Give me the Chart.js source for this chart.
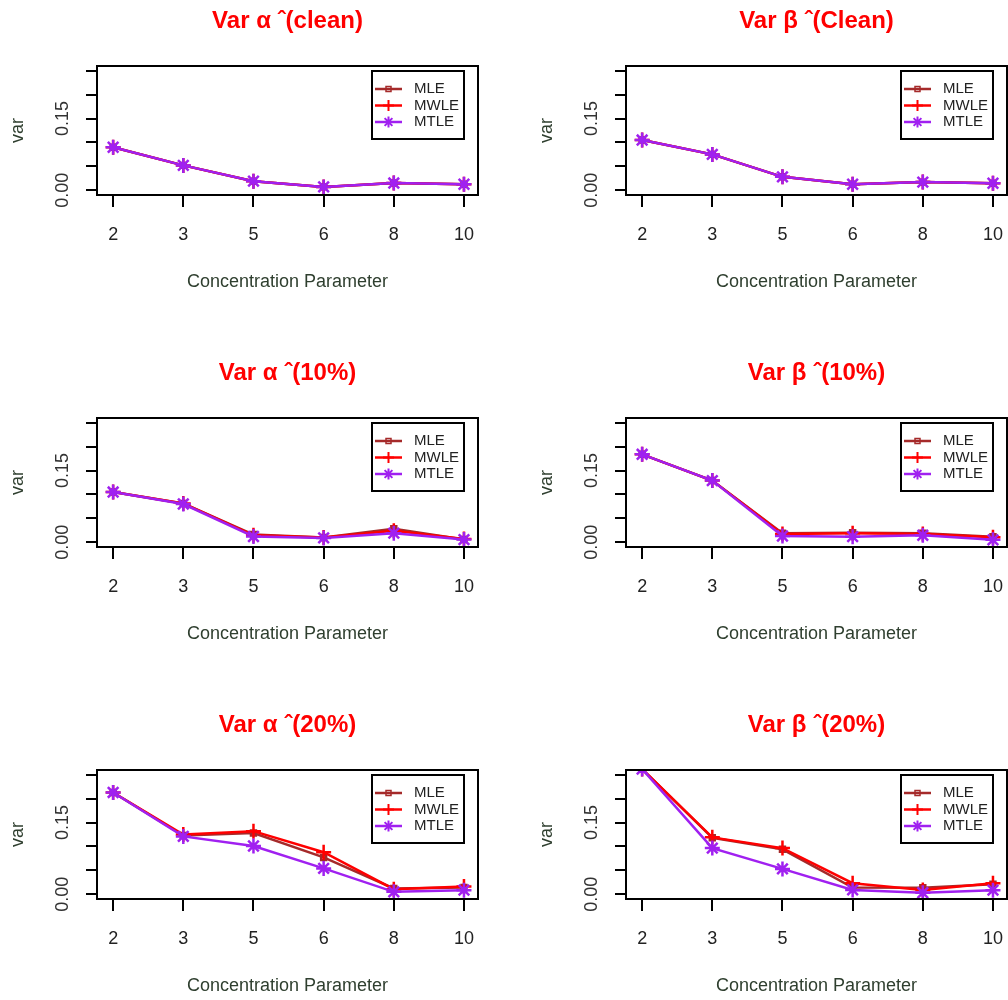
<!DOCTYPE html>
<html>
<head>
<meta charset="utf-8">
<script src="https://cdn.jsdelivr.net/npm/chart.js"></script>
<style>
  html, body { margin: 0; padding: 0; background: #fff; }
  body { width: 1008px; height: 1000px; position: relative; overflow: hidden; }
  canvas { position: absolute; }
</style>
</head>
<body>
<canvas id="p1" width="479" height="300" style="left:0px;top:0px"></canvas>
<canvas id="p2" width="479" height="300" style="left:529px;top:0px"></canvas>
<canvas id="p3" width="479" height="300" style="left:0px;top:352px"></canvas>
<canvas id="p4" width="479" height="300" style="left:529px;top:352px"></canvas>
<canvas id="p5" width="479" height="300" style="left:0px;top:704px"></canvas>
<canvas id="p6" width="479" height="300" style="left:529px;top:704px"></canvas>
<script>
const categories = ['2', '3', '5', '6', '8', '10'];
const yTicks = [0, 0.05, 0.10, 0.15, 0.20, 0.25];
const yLabelled = [0, 0.15];
const seriesNames = ['MLE', 'MWLE', 'MTLE'];

const titles = ['Var α ˆ(clean)', 'Var β ˆ(Clean)', 'Var α ˆ(10%)', 'Var β ˆ(10%)', 'Var α ˆ(20%)', 'Var β ˆ(20%)'];

// clean
const alphaCleanMLE  = [0.090, 0.052, 0.019, 0.007, 0.015, 0.0125];
const alphaCleanMWLE = [0.090, 0.052, 0.019, 0.007, 0.015, 0.0125];
const alphaCleanMTLE = [0.090, 0.052, 0.019, 0.007, 0.015, 0.0125];
const betaCleanMLE   = [0.105, 0.075, 0.028, 0.0125, 0.017, 0.0146];
const betaCleanMWLE  = [0.105, 0.075, 0.028, 0.0125, 0.017, 0.0146];
const betaCleanMTLE  = [0.105, 0.075, 0.028, 0.0125, 0.017, 0.0146];

// 10% contamination
const alpha10MLE  = [0.105, 0.081, 0.016, 0.010, 0.028, 0.0055];
const alpha10MWLE = [0.105, 0.081, 0.0145, 0.010, 0.024, 0.007];
const alpha10MTLE = [0.105, 0.080, 0.012, 0.009, 0.019, 0.0055];
const beta10MLE   = [0.184, 0.129, 0.0186, 0.020, 0.0186, 0.0117];
const beta10MWLE  = [0.184, 0.129, 0.017, 0.0186, 0.017, 0.0103];
const beta10MTLE  = [0.184, 0.129, 0.013, 0.0117, 0.0145, 0.005];

// 20% contamination
const alpha20MLE  = [0.213, 0.123, 0.128, 0.077, 0.012, 0.014];
const alpha20MWLE = [0.213, 0.125, 0.132, 0.088, 0.0106, 0.016];
const alpha20MTLE = [0.213, 0.121, 0.101, 0.054, 0.005, 0.0085];
const beta20MLE   = [0.262, 0.118, 0.094, 0.014, 0.0134, 0.021];
const beta20MWLE  = [0.262, 0.119, 0.0965, 0.023, 0.009, 0.023];
const beta20MTLE  = [0.262, 0.0965, 0.053, 0.009, 0.003, 0.0085];

const seriesColors = ['#A52A2A', '#FF0000', '#A020F0'];
const seriesMarkers = ['rect', 'cross', 'star'];
const axisTextColor = '#2f3f2f';

Chart.defaults.font.family = '"Liberation Sans", Arial, sans-serif';

// draws the R style box round the plot region
const frameBox = {
    id: 'frameBox',
    afterDatasetsDraw(chart) {
        const { ctx, chartArea } = chart;
        ctx.save();
        ctx.lineWidth = 2;
        ctx.strokeStyle = '#000';
        ctx.strokeRect(chartArea.left, chartArea.top, chartArea.right - chartArea.left, chartArea.bottom - chartArea.top);
        ctx.restore();
    }
};

function drawMarker(ctx, style, cx, cy) {
    ctx.beginPath();
    if (style === 'rect') {
        ctx.lineWidth = 1.5;
        ctx.rect(cx - 2.5, cy - 2.5, 5, 5);
    } else if (style === 'cross') {
        ctx.lineWidth = 2;
        ctx.moveTo(cx - 5.5, cy); ctx.lineTo(cx + 5.5, cy);
        ctx.moveTo(cx, cy - 5.5); ctx.lineTo(cx, cy + 5.5);
    } else {
        ctx.lineWidth = 2;
        for (let a = 0; a < 4; a++) {
            const ang = a * Math.PI / 4;
            ctx.moveTo(cx - 5.5 * Math.cos(ang), cy - 5.5 * Math.sin(ang));
            ctx.lineTo(cx + 5.5 * Math.cos(ang), cy + 5.5 * Math.sin(ang));
        }
    }
    ctx.stroke();
}

// legend box inside the top right corner of the plot
const boxLegend = {
    id: 'boxLegend',
    afterDraw(chart) {
        const { ctx, chartArea } = chart;
        const w = 92, h = 68;
        const x = chartArea.right - 14 - w;
        const y = chartArea.top + 5;
        ctx.save();
        ctx.fillStyle = '#fff';
        ctx.fillRect(x, y, w, h);
        ctx.lineWidth = 2;
        ctx.strokeStyle = '#000';
        ctx.strokeRect(x, y, w, h);
        chart.data.datasets.forEach((ds, i) => {
            const ly = y + 18 + i * 16.5;
            ctx.strokeStyle = ds.borderColor;
            ctx.lineWidth = 2.5;
            ctx.beginPath();
            ctx.moveTo(x + 3, ly);
            ctx.lineTo(x + 30, ly);
            ctx.stroke();
            drawMarker(ctx, ds.pointStyle, x + 16.5, ly);
            ctx.fillStyle = '#222';
            ctx.font = '15px "Liberation Sans", Arial, sans-serif';
            ctx.textBaseline = 'middle';
            ctx.textAlign = 'left';
            ctx.fillText(ds.label, x + 42, ly);
        });
        ctx.restore();
    }
};

function makePanel(id, title, mle, mwle, mtle) {
    const values = [mle, mwle, mtle];
    const datasets = values.map((vals, k) => ({
        label: seriesNames[k],
        data: vals.map((v, i) => ({ x: i + 1, y: v })),
        borderColor: seriesColors[k],
        backgroundColor: seriesColors[k],
        borderWidth: 2.5,
        pointStyle: seriesMarkers[k],
        pointRadius: k === 0 ? 3.5 : 7.5,
        pointBorderWidth: 2.5,
        pointBackgroundColor: 'transparent',
        pointBorderColor: seriesColors[k],
        tension: 0,
        order: 2 - k
    }));

    new Chart(document.getElementById(id), {
        type: 'line',
        data: { datasets: datasets },
        options: {
            responsive: false,
            animation: false,
            events: [],
            layout: { autoPadding: false, padding: { left: 0, right: 1, top: 0, bottom: 0 } },
            plugins: {
                legend: { display: false },
                tooltip: { enabled: false },
                title: {
                    display: true,
                    text: title,
                    color: '#FF0000',
                    fullSize: false,
                    font: { size: 24, weight: 'bold', lineHeight: 1.2 },
                    padding: { top: 6.6, bottom: 30.6 }
                }
            },
            scales: {
                x: {
                    type: 'linear',
                    min: 0.77,
                    max: 6.2,
                    afterBuildTicks: (scale) => { scale.ticks = categories.map((c, i) => ({ value: i + 1 })); },
                    afterFit: (scale) => {
                        scale.height = 105;
                        scale.paddingLeft = 0;
                        scale.paddingRight = 0;
                    },
                    border: { display: false },
                    grid: { drawOnChartArea: false, drawTicks: true, tickLength: 12, color: '#000', lineWidth: 2 },
                    ticks: {
                        autoSkip: false,
                        maxRotation: 0,
                        padding: 17,
                        color: '#222',
                        font: { size: 18 },
                        callback: (v) => categories[Math.round(v) - 1]
                    },
                    title: {
                        display: true,
                        text: 'Concentration Parameter',
                        color: axisTextColor,
                        font: { size: 18, lineHeight: 1.2 },
                        padding: { top: 0, bottom: 7.2 }
                    }
                },
                y: {
                    min: -0.01,
                    max: 0.26,
                    afterBuildTicks: (scale) => { scale.ticks = yTicks.map(v => ({ value: v })); },
                    afterFit: (scale) => {
                        scale.width = 97;
                        scale.paddingTop = 0;
                        scale.paddingBottom = 0;
                    },
                    border: { display: false },
                    grid: { drawOnChartArea: false, drawTicks: true, tickLength: 11, color: '#000', lineWidth: 2 },
                    ticks: {
                        autoSkip: false,
                        minRotation: 90,
                        maxRotation: 90,
                        crossAlign: 'center',
                        padding: 5.5,
                        color: '#333',
                        font: { size: 18 },
                        callback: (v) => yLabelled.some(l => Math.abs(l - v) < 1e-9) ? v.toFixed(2) : ''
                    },
                    title: {
                        display: true,
                        text: 'var',
                        color: axisTextColor,
                        font: { size: 18, lineHeight: 1.2 },
                        padding: { top: 7.2, bottom: 0 }
                    }
                }
            }
        },
        plugins: [frameBox, boxLegend]
    });
}

makePanel('p1', titles[0], alphaCleanMLE, alphaCleanMWLE, alphaCleanMTLE);
makePanel('p2', titles[1], betaCleanMLE, betaCleanMWLE, betaCleanMTLE);
makePanel('p3', titles[2], alpha10MLE, alpha10MWLE, alpha10MTLE);
makePanel('p4', titles[3], beta10MLE, beta10MWLE, beta10MTLE);
makePanel('p5', titles[4], alpha20MLE, alpha20MWLE, alpha20MTLE);
makePanel('p6', titles[5], beta20MLE, beta20MWLE, beta20MTLE);
</script>
</body>
</html>
